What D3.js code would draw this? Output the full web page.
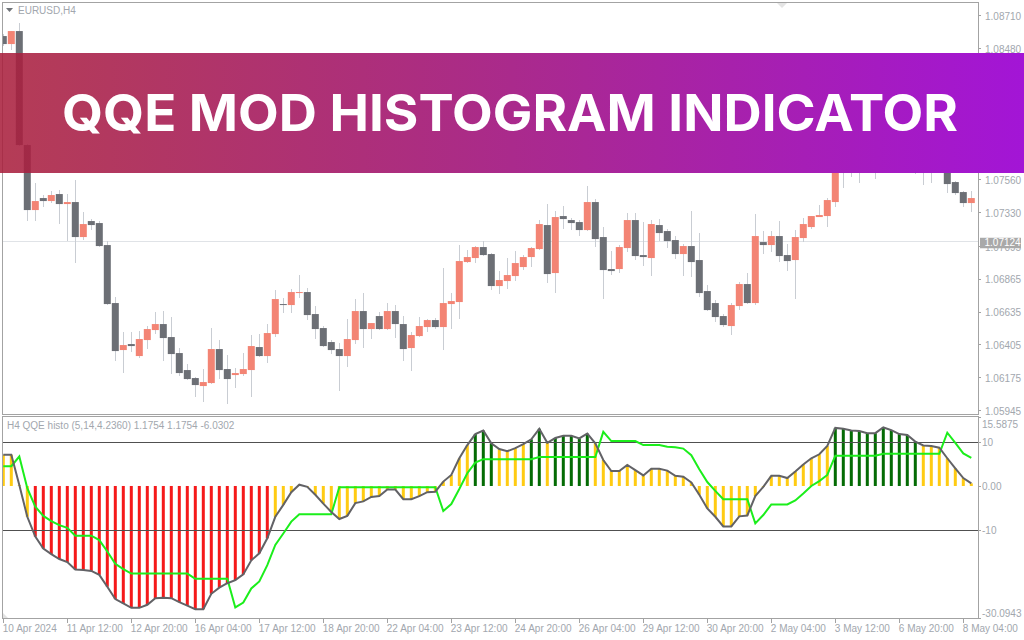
<!DOCTYPE html>
<html>
<head>
<meta charset="utf-8">
<title>QQE MOD Histogram Indicator</title>
<script src="https://cdn.jsdelivr.net/npm/d3@7"></script>
<style>
    html, body { margin: 0; padding: 0; background: #fff; }
    svg { display: block; }
    text { font-family: "Liberation Sans", sans-serif; }
</style>
</head>
<body>
<div id="chart"></div>
<script>
// candles, oldest first (values behind the banner are estimates)
const opens = [1.08564,1.08508,1.08599,1.07801,1.07346,1.07430,1.07409,1.07458,1.07388,1.07402,1.07157,1.07269,1.07255,1.07101,1.06695,1.06366,1.06408,1.06324,1.06436,1.06506,1.06548,1.06457,1.06345,1.06226,1.06170,1.06114,1.06135,1.06373,1.06233,1.06191,1.06198,1.06226,1.06387,1.06324,1.06478,1.06688,1.06681,1.06765,1.06772,1.06618,1.06520,1.06422,1.06373,1.06324,1.06436,1.06639,1.06513,1.06604,1.06513,1.06639,1.06548,1.06380,1.06464,1.06527,1.06576,1.06527,1.06688,1.06702,1.06982,1.07010,1.07087,1.07038,1.06814,1.06849,1.06884,1.06947,1.07017,1.07073,1.07241,1.06905,1.07304,1.07276,1.07262,1.07206,1.07402,1.07157,1.06933,1.06933,1.07080,1.07276,1.07031,1.07010,1.07241,1.07199,1.07136,1.07038,1.07094,1.06996,1.06779,1.06695,1.06604,1.06534,1.06674,1.06828,1.06695,1.07122,1.07101,1.07164,1.07031,1.06996,1.07150,1.07227,1.07297,1.07304,1.07402,1.07766,1.07696,1.07766,1.07710,1.07780,1.07661,1.07906,1.07836,1.07766,1.07801,1.07731,1.07766,1.07731,1.07696,1.07542,1.07472,1.07395];
const highs = [1.08578,1.08599,1.08655,1.07808,1.07535,1.07451,1.07479,1.07486,1.07458,1.07556,1.07332,1.07283,1.07269,1.07129,1.06737,1.06492,1.06492,1.06499,1.06534,1.06632,1.06639,1.06597,1.06380,1.06268,1.06177,1.06233,1.06520,1.06436,1.06331,1.06240,1.06345,1.06471,1.06478,1.06548,1.06786,1.06730,1.06793,1.06891,1.06800,1.06674,1.06534,1.06436,1.06415,1.06583,1.06723,1.06765,1.06555,1.06632,1.06695,1.06681,1.06604,1.06492,1.06597,1.06583,1.06590,1.06940,1.06765,1.07101,1.07066,1.07094,1.07129,1.07045,1.06919,1.07010,1.07059,1.07031,1.07087,1.07276,1.07388,1.07339,1.07374,1.07290,1.07276,1.07514,1.07423,1.07227,1.07059,1.07101,1.07325,1.07325,1.07262,1.07276,1.07283,1.07213,1.07164,1.07108,1.07339,1.07185,1.06821,1.06716,1.06618,1.06695,1.06842,1.06905,1.07318,1.07199,1.07199,1.07269,1.07108,1.07206,1.07290,1.07304,1.07381,1.07430,1.07801,1.07836,1.07801,1.07836,1.07836,1.07836,1.07941,1.07941,1.07871,1.07836,1.07871,1.07801,1.07801,1.07766,1.07766,1.07549,1.07479,1.07479];
const lows = [1.08494,1.08466,1.07794,1.07269,1.07269,1.07367,1.07395,1.07248,1.07129,1.06975,1.07136,1.07206,1.07087,1.06681,1.06289,1.06205,1.06352,1.06310,1.06373,1.06478,1.06289,1.06198,1.06184,1.06156,1.06037,1.06002,1.06128,1.06163,1.05988,1.06100,1.06184,1.06037,1.06317,1.06275,1.06457,1.06625,1.06625,1.06730,1.06576,1.06443,1.06387,1.06338,1.06079,1.06247,1.06408,1.06380,1.06443,1.06506,1.06506,1.06450,1.06289,1.06219,1.06457,1.06492,1.06513,1.06366,1.06513,1.06583,1.06975,1.06975,1.07024,1.06786,1.06758,1.06793,1.06849,1.06926,1.06947,1.07066,1.06835,1.06765,1.07213,1.07206,1.07164,1.07199,1.07087,1.06723,1.06891,1.06905,1.07052,1.06996,1.06954,1.06884,1.07129,1.07080,1.07003,1.06884,1.06877,1.06737,1.06639,1.06562,1.06527,1.06471,1.06646,1.06688,1.06681,1.07038,1.07052,1.06982,1.06919,1.06723,1.07122,1.07213,1.07297,1.07227,1.07367,1.07500,1.07577,1.07535,1.07626,1.07563,1.07626,1.07661,1.07640,1.07696,1.07598,1.07521,1.07535,1.07612,1.07465,1.07451,1.07367,1.07332];
const closes = [1.08508,1.08599,1.07801,1.07346,1.07409,1.07409,1.07451,1.07388,1.07402,1.07157,1.07248,1.07241,1.07094,1.06688,1.06359,1.06401,1.06394,1.06443,1.06513,1.06548,1.06450,1.06338,1.06205,1.06163,1.06121,1.06142,1.06373,1.06226,1.06163,1.06205,1.06233,1.06394,1.06324,1.06485,1.06723,1.06681,1.06772,1.06772,1.06611,1.06513,1.06394,1.06366,1.06324,1.06443,1.06639,1.06513,1.06555,1.06513,1.06639,1.06548,1.06373,1.06471,1.06534,1.06576,1.06527,1.06695,1.06709,1.06989,1.07017,1.07087,1.07031,1.06814,1.06856,1.06891,1.06975,1.07017,1.07080,1.07248,1.06898,1.07297,1.07283,1.07255,1.07206,1.07402,1.07143,1.06926,1.06919,1.07087,1.07276,1.07024,1.07017,1.07248,1.07185,1.07129,1.07038,1.07094,1.06982,1.06765,1.06646,1.06597,1.06541,1.06681,1.06828,1.06695,1.07164,1.07101,1.07164,1.07024,1.06989,1.07157,1.07248,1.07304,1.07311,1.07416,1.07766,1.07696,1.07766,1.07710,1.07780,1.07661,1.07906,1.07836,1.07766,1.07801,1.07731,1.07766,1.07731,1.07696,1.07528,1.07465,1.07395,1.07430];

// QQE panel
const qqeLine = [7.1,7.1,0.2,-7.0,-11.5,-14.2,-15.5,-16.6,-17.3,-19.0,-19.1,-19.3,-20.2,-22.9,-25.7,-26.7,-27.7,-27.7,-27.0,-25.5,-25.4,-25.5,-26.4,-27.2,-28.0,-28.0,-24.5,-23.1,-22.1,-21.4,-20.1,-16.9,-15.3,-11.9,-7.0,-4.3,-1.4,0.3,-0.2,-2.0,-4.0,-5.9,-7.5,-6.8,-3.9,-3.5,-2.5,-2.3,-0.8,-0.8,-3.0,-3.0,-2.3,-1.4,-1.3,1.0,2.5,6.3,9.3,11.8,12.6,9.7,8.4,7.9,8.6,9.5,10.6,13.0,9.8,10.9,11.4,11.4,10.8,11.9,9.7,5.9,3.4,3.4,4.8,3.6,2.4,3.9,3.9,3.5,2.3,2.1,0.8,-2.0,-5.1,-7.0,-9.2,-9.2,-6.9,-6.7,-2.3,-0.2,2.3,2.3,1.8,3.3,4.9,6.3,7.2,9.1,13.2,13.0,12.6,12.5,12.0,12.0,13.3,12.7,11.8,11.6,10.1,9.2,9.1,8.7,6.3,4.0,1.8,0.6];
const signalLine = [4.5,4.5,6.7,-0.5,-4.7,-6.8,-8.0,-8.9,-9.5,-11.3,-11.3,-11.3,-12.3,-14.9,-17.7,-18.9,-19.9,-19.9,-19.9,-19.9,-19.9,-19.9,-19.9,-19.9,-21.1,-21.1,-21.1,-21.1,-21.1,-27.6,-26.5,-23.3,-21.7,-18.0,-13.4,-10.8,-8.1,-6.4,-6.4,-6.4,-6.4,-6.4,-0.3,-0.3,-0.3,-0.3,-0.3,-0.3,-0.3,-0.3,-0.3,-0.3,-0.3,-0.3,-0.3,-5.7,-4.1,-0.7,2.9,5.3,6.1,6.1,6.1,6.1,6.1,6.1,6.1,6.6,6.6,6.6,6.6,6.6,6.6,6.6,6.6,12.3,10.2,10.2,10.2,10.2,9.3,9.3,9.3,8.9,8.8,8.5,7.0,3.8,0.9,-1.1,-3.0,-3.0,-3.0,-3.0,-8.5,-6.6,-4.2,-4.2,-4.2,-3.3,-1.7,0.0,1.1,2.5,6.9,6.9,6.9,6.9,6.9,6.9,7.3,7.3,7.3,7.3,7.3,7.3,7.3,7.3,12.1,9.8,7.4,6.4];
// histogram state per bar: y yellow, r red, g dark green
const barState = "yyyy" + "r".repeat(30) + "y".repeat(25) + "ggg" + "yyyy" + "gg" + "y" + "ggggg" + "y".repeat(30) + "g".repeat(11) + "y".repeat(7);

const priceTicks = [1.0871,1.0848,1.0825,1.0802,1.0779,1.0756,1.0733,1.07095,1.06865,1.06635,1.06405,1.06175,1.05945];
const qqeTicks = [15.5875,10,0,-10,-30.0943];
const timeTickBars = [0,8,16,24,32,40,48,56,64,72,80,88,96,104,112,120];
const timeLabels = ["10 Apr 2024","11 Apr 12:00","12 Apr 20:00","16 Apr 04:00","17 Apr 12:00","18 Apr 20:00","22 Apr 04:00","23 Apr 12:00","24 Apr 20:00","26 Apr 04:00","29 Apr 12:00","30 Apr 20:00","2 May 04:00","3 May 12:00","6 May 20:00","8 May 04:00"];
const lastPrice = 1.07124;

const frameColor = "#a3a3a3", labelColor = "#a2a7ae";

const svg = d3.select("#chart").append("svg").attr("width", 1024).attr("height", 640);

const x = d3.scaleLinear().domain([0, 121]).range([3.3, 971.3]);
const y = d3.scaleLinear().domain([1.0871, 1.05945]).range([15.2, 410.2]);
const yq = d3.scaleLinear().domain([15.5875, -30.0943]).range([417.4, 618.4]);

const defs = svg.append("defs");
defs.append("clipPath").attr("id", "mainClip").append("rect")
    .attr("x", 3).attr("y", 3).attr("width", 975).attr("height", 411);
defs.append("clipPath").attr("id", "subClip").append("rect")
    .attr("x", 3).attr("y", 417).attr("width", 975).attr("height", 202);

const grad = defs.append("linearGradient").attr("id", "bannerFill");
grad.append("stop").attr("offset", "0%").attr("stop-color", "#a91f3c").attr("stop-opacity", 0.87);
grad.append("stop").attr("offset", "50%").attr("stop-color", "#aa2a8c").attr("stop-opacity", 1);
grad.append("stop").attr("offset", "100%").attr("stop-color", "#a315d6").attr("stop-opacity", 1);

// price panel
const main = svg.append("g").attr("clip-path", "url(#mainClip)");

main.append("line")
    .attr("x1", 3).attr("x2", 978)
    .attr("y1", y(lastPrice)).attr("y2", y(lastPrice))
    .attr("stroke", "#e0e3e7")
    .attr("shape-rendering", "crispEdges");

main.selectAll(".wick")
    .data(d3.range(opens.length))
    .enter()
    .append("line")
    .attr("x1", d => x(d)).attr("x2", d => x(d))
    .attr("y1", d => y(highs[d])).attr("y2", d => y(lows[d]))
    .attr("stroke", "#c9cdd3")
    .attr("shape-rendering", "crispEdges");

main.selectAll(".body")
    .data(d3.range(opens.length))
    .enter()
    .append("rect")
    .attr("x", d => x(d) - 3.5)
    .attr("width", 7)
    .attr("y", d => y(Math.max(opens[d], closes[d])))
    .attr("height", d => Math.max(1, Math.abs(y(opens[d]) - y(closes[d]))))
    .attr("fill", d => closes[d] >= opens[d] ? "#f38474" : "#6c6f75");

// indicator panel
const sub = svg.append("g").attr("clip-path", "url(#subClip)");

sub.selectAll(".bar")
    .data(qqeLine)
    .enter()
    .append("rect")
    .attr("x", (d, i) => x(i) - 1.5)
    .attr("width", 3)
    .attr("y", d => Math.min(yq(d), yq(0)))
    .attr("height", d => Math.abs(yq(d) - yq(0)))
    .attr("fill", (d, i) => ({ y: "#ffcb12", r: "#f5191a", g: "#046b04" })[barState[i]]);

sub.selectAll(".level")
    .data([10, -10])
    .enter()
    .append("line")
    .attr("x1", 3).attr("x2", 978)
    .attr("y1", d => yq(d) + 0.5).attr("y2", d => yq(d) + 0.5)
    .attr("stroke", "#505050")
    .attr("shape-rendering", "crispEdges");

const line = d3.line().x((d, i) => x(i)).y(d => yq(d));

sub.append("path").datum(signalLine)
    .attr("d", line).attr("fill", "none")
    .attr("stroke", "#1bee1b").attr("stroke-width", 2);

sub.append("path").datum(qqeLine)
    .attr("d", line).attr("fill", "none")
    .attr("stroke", "#626266").attr("stroke-width", 2);

// frames
svg.append("rect").attr("x", 2.5).attr("y", 2.5).attr("width", 975.5).attr("height", 412)
    .attr("fill", "none").attr("stroke", frameColor).attr("shape-rendering", "crispEdges");
svg.append("rect").attr("x", 2.5).attr("y", 416.5).attr("width", 975.5).attr("height", 202)
    .attr("fill", "none").attr("stroke", frameColor).attr("shape-rendering", "crispEdges");

// axes
function styleAxis(g) {
    g.select(".domain").remove();
    g.selectAll("line").attr("stroke", frameColor).attr("shape-rendering", "crispEdges");
    g.selectAll("text").attr("fill", labelColor)
        .style("font-family", "'Liberation Sans', sans-serif").style("font-size", "10px");
}

svg.append("g")
    .attr("transform", "translate(978,0)")
    .call(d3.axisRight(y).tickValues(priceTicks).tickSize(3).tickPadding(4).tickFormat(d3.format(".5f")))
    .call(styleAxis)
    .selectAll("text")
    .attr("dy", "0.42em");

svg.append("g")
    .attr("transform", "translate(978,0)")
    .call(d3.axisRight(yq).tickValues(qqeTicks).tickSize(3).tickPadding(1)
        .tickFormat(d => d === 0 ? "0.00" : String(d)))
    .call(styleAxis)
    .selectAll("text")
    .attr("dy", d => d === 15.5875 ? "1em" : d === -30.0943 ? "-0.15em" : "0.38em");

svg.append("g")
    .attr("transform", "translate(0,618.5)")
    .call(d3.axisBottom(x).tickValues(timeTickBars).tickSize(4).tickPadding(2)
        .tickFormat((d, i) => timeLabels[i]))
    .call(styleAxis)
    .selectAll("text")
    .attr("text-anchor", "start")
    .attr("x", -1);

// last price tag
svg.append("rect").attr("x", 980).attr("y", y(lastPrice) - 4).attr("width", 41).attr("height", 10.5).attr("fill", "#a9a9a9");
svg.append("text").attr("x", 984.5).attr("y", y(lastPrice) + 4.5)
    .attr("fill", "#fff").style("font-size", "10px").text(d3.format(".5f")(lastPrice));

// chart captions
svg.append("path").attr("d", d3.line()([[6, 8], [13, 8], [9.5, 12]])).attr("fill", "#6f7378");
svg.append("text").attr("x", 18).attr("y", 14).attr("fill", labelColor).style("font-size", "10px").text("EURUSD,H4");
svg.append("text").attr("x", 7).attr("y", 429).attr("fill", labelColor).style("font-size", "10px")
    .text("H4 QQE histo (5,14,4.2360) 1.1754 1.1754 -6.0302");
svg.append("path").attr("d", d3.line()([[777, 3], [787, 3], [782, 8]])).attr("fill", "#e4e4e4");
svg.append("path").attr("d", d3.line()([[3, 613], [8, 618], [3, 618]])).attr("fill", "#e2e2e2");

// banner
svg.append("rect").attr("x", 0).attr("y", 53).attr("width", 1024).attr("height", 120).attr("fill", "url(#bannerFill)");
svg.append("text")
    .attr("x", 62).attr("y", 131)
    .attr("textLength", 896)
    .attr("lengthAdjust", "spacingAndGlyphs")
    .attr("fill", "#fff")
    .style("font-family", "Inter, sans-serif")
    .style("font-weight", "700")
    .style("font-size", "51px")
    .text("QQE MOD HISTOGRAM INDICATOR");
</script>
</body>
</html>
